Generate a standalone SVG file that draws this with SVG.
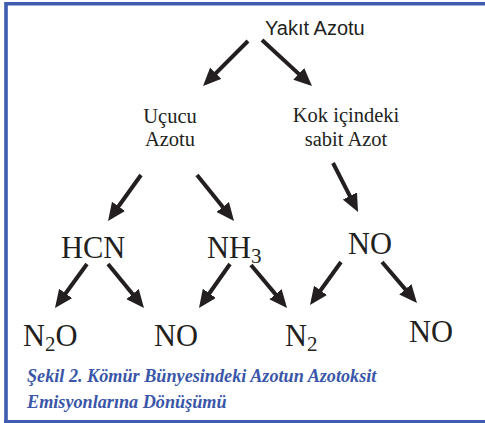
<svg xmlns="http://www.w3.org/2000/svg" width="485" height="423" viewBox="0 0 485 423">
<defs>
<style>
.frame{fill:none;stroke:#3f5db0;stroke-width:3.6}
.sans{font-family:"Liberation Sans",Arial,sans-serif;font-size:20px;fill:#231f20}
.ser{font-family:"Liberation Serif","Times New Roman",serif;font-size:20.5px;fill:#231f20;text-anchor:middle}
.chem{font-family:"Liberation Serif","Times New Roman",serif;font-size:30.5px;fill:#231f20}
.sub{font-size:21px}
.cap{font-family:"Liberation Serif","Times New Roman",serif;font-size:18.2px;font-weight:bold;font-style:italic;fill:#3a56a8}
.arr{stroke:#231f20;stroke-width:4;fill:none;marker-end:url(#ah)}
</style>
<marker id="ah" viewBox="0 0 18 16" refX="10" refY="8" markerWidth="18" markerHeight="16" markerUnits="userSpaceOnUse" orient="auto">
<path d="M0,0 L18,8 L0,16 z" fill="#231f20"/>
</marker>
</defs>
<rect width="485" height="423" fill="#fff"/>
<path class="frame" d="M6,423 L6,3.8 L485,3.8"/>
<line x1="4" y1="421.5" x2="485" y2="421.5" stroke="#3f5db0" stroke-width="3"/>

<g id="yakit"><text class="sans" x="265" y="35">Yakıt Azotu</text></g>
<g id="ucucu"><text class="ser" x="170" y="123">Uçucu</text><text class="ser" x="170" y="146">Azotu</text></g>
<g id="kok"><text class="ser" x="346" y="122">Kok içindeki</text><text class="ser" x="346" y="146">sabit Azot</text></g>
<g id="hcn"><text class="chem" x="61" y="258">HCN</text></g>
<g id="nh3"><text class="chem" x="207" y="258">NH<tspan class="sub" dy="5">3</tspan></text></g>
<g id="no1"><text class="chem" x="348" y="254">NO</text></g>
<g id="n2o"><text class="chem" x="23" y="346">N<tspan class="sub" dy="5">2</tspan><tspan dy="-5">O</tspan></text></g>
<g id="no2"><text class="chem" x="154" y="346">NO</text></g>
<g id="n2"><text class="chem" x="285" y="346">N<tspan class="sub" dy="5">2</tspan></text></g>
<g id="no3"><text class="chem" x="409" y="342">NO</text></g>

<g id="connectors">
<line class="arr" x1="248" y1="41" x2="208.7" y2="80.3"/>
<line class="arr" x1="262" y1="40" x2="306.1" y2="80.6"/>
<line class="arr" x1="141" y1="175" x2="112.7" y2="214.5"/>
<line class="arr" x1="197" y1="175" x2="229" y2="214.8"/>
<line class="arr" x1="333" y1="163" x2="354.4" y2="204.9"/>
<line class="arr" x1="87" y1="264" x2="59.7" y2="301.5"/>
<line class="arr" x1="108" y1="264" x2="138.9" y2="301.8"/>
<line class="arr" x1="230" y1="264" x2="203.6" y2="301.5"/>
<line class="arr" x1="251" y1="265" x2="281.9" y2="301.9"/>
<line class="arr" x1="341" y1="262" x2="314.7" y2="298.5"/>
<line class="arr" x1="382" y1="262" x2="411.8" y2="296.9"/>
</g>

<g id="caption">
<text class="cap" x="27" y="382">Şekil 2. Kömür Bünyesindeki Azotun Azotoksit</text>
<text class="cap" x="27" y="408">Emisyonlarına Dönüşümü</text>
</g>
</svg>
